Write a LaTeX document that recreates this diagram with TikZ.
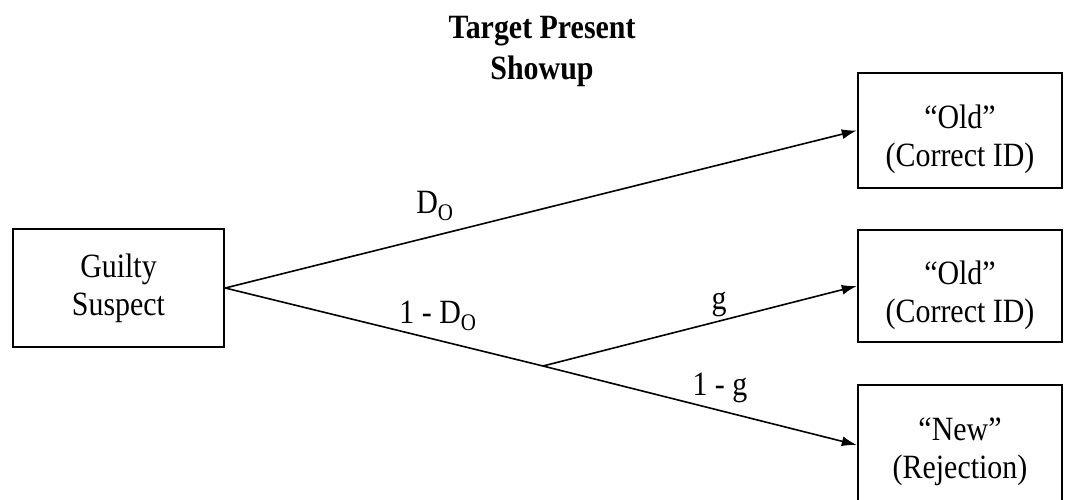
\documentclass[tikz,border=0pt]{standalone}
\usepackage{fontspec}
\setmainfont{Liberation Serif}[FakeStretch=0.88]
\usetikzlibrary{arrows.meta}
\begin{document}
\begin{tikzpicture}[x=1pt,y=-1pt,
  txt/.style={font=\fontsize{34}{38}\selectfont},
  boxtxt/.style={align=center,inner sep=0pt,font=\fontsize{34}{38}\selectfont},
  box/.style={draw,line width=2.4pt,rectangle,align=center,inner sep=0pt,
    font=\fontsize{34}{38}\selectfont},
  conn/.style={line width=1.6pt,-{Latex[length=15pt,width=10pt]}},
  plain/.style={line width=1.6pt}]
\useasboundingbox (0,0) rectangle (1065,500);
\node[txt,anchor=base,font=\fontsize{34}{38}\selectfont\bfseries] (t1) at (542,39) {Target Present};
\node[txt,anchor=base,font=\fontsize{34}{38}\selectfont\bfseries] (t2) at (542,80) {Showup};
\node[box,minimum width=211pt,minimum height=118pt] (G) at (118.5,288) {Guilty\\Suspect};
\node[box,minimum width=204pt,minimum height=115pt] (O1) at (960,130.5) {};
\node[box,minimum width=204pt,minimum height=112pt] (O2) at (960,286) {};
\node[box,minimum width=204pt,minimum height=120pt] (N) at (960,445) {};
\node[boxtxt] (O1t) at ([yshift=-9pt]O1.center) {“Old”\\(Correct ID)};
\node[boxtxt] (O2t) at ([yshift=-9pt]O2.center) {“Old”\\(Correct ID)};
\node[boxtxt] (Nt) at ([yshift=-7pt]N.center) {“New”\\(Rejection)};
\coordinate (B) at (543,366);
\draw[conn] (G.east) -- (O1.west);
\draw[plain] (G.east) -- (B);
\draw[conn] (B) -- (O2.west);
\draw[conn] (B) -- (N.west);
\node[txt,anchor=base] (l1) at (435,213) {D\textsubscript{O}};
\node[txt,anchor=base] (l2) at (438,323) {1 - D\textsubscript{O}};
\node[txt,anchor=base] (l3) at (719,309) {g};
\node[txt,anchor=base] (l4) at (720,395) {1 - g};
\end{tikzpicture}
\end{document}
